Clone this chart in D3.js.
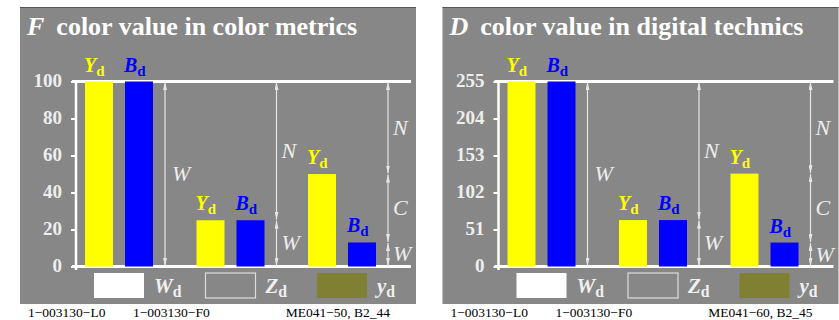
<!DOCTYPE html>
<html lang="en">
<head>
<meta charset="UTF-8">
<title>Color values F and D</title>
<script src="https://d3js.org/d3.v7.min.js"></script>
<style>
  body { margin: 0; background: #fff; }
  svg text { font-family: "Liberation Serif", "Times New Roman", serif; }
</style>
</head>
<body>
<div id="chart"></div>
<script>
// data
var groups = [0, 1, 2];
var fYellow = [100, 25, 50];
var fBlue = [100, 25, 13];
var fTicks = [0, 20, 40, 60, 80, 100];
var dYellow = [255, 64, 128];
var dBlue = [255, 64, 33];
var dTicks = [0, 51, 102, 153, 204, 255];
var legendKeys = ["W", "Z", "y"];
var footerF = ["1\u2212003130\u2212L0", "1\u2212003130\u2212F0", "ME041\u221250, B2_44"];
var footerD = ["1\u2212003130\u2212L0", "1\u2212003130\u2212F0", "ME041\u221260, B2_45"];

var W = 839, H = 320;
var serif = "'Liberation Serif', 'Times New Roman', serif";
var svg = d3.select("#chart").append("svg")
  .attr("width", W).attr("height", H);

svg.append("defs").append("marker")
  .attr("id", "head")
  .attr("viewBox", "0 0 8 4")
  .attr("refX", 8).attr("refY", 2)
  .attr("markerWidth", 8).attr("markerHeight", 4)
  .attr("markerUnits", "userSpaceOnUse")
  .attr("orient", "auto-start-reverse")
  .append("path")
  .attr("d", "M0,0L8,2L0,4Z")
  .attr("fill", "#e6e6e6");

function subText(sel, main, sub, size, color) {
  var t = sel.append("text").attr("fill", color);
  t.append("tspan").text(main)
    .style("font-style", "italic").style("font-weight", "bold")
    .style("font-size", size + "px");
  t.append("tspan").text(sub)
    .style("font-weight", "bold").style("font-size", (size * 0.75) + "px")
    .attr("dy", size * 0.2);
  return t;
}

function drawPanel(ox, letter, title, yellow, blue, ticks, footer) {
  var g = svg.append("g").attr("transform", "translate(" + ox + ",0)");
  var maxV = ticks[ticks.length - 1];

  g.append("rect")
    .attr("x", 20).attr("y", 7).attr("width", 396).attr("height", 297)
    .attr("fill", "#878787");
  g.append("line")
    .attr("x1", 20).attr("x2", 416).attr("y1", 7.5).attr("y2", 7.5)
    .attr("stroke", "#555").attr("stroke-width", 1);

  // title
  var t = g.append("text").attr("x", 27).attr("y", 35)
    .attr("fill", "#fff").style("font-size", "26px").style("font-weight", "bold");
  t.append("tspan").style("font-style", "italic").text(letter);
  t.append("tspan").attr("dx", 12).text("color value in " + title);

  var y = d3.scaleLinear().domain([0, maxV]).range([266.5, 81.5]);
  var x = d3.scaleLinear().domain([0, 1]).range([85, 196.5]);
  var bw = 28;

  // axis
  var ax = g.append("g").attr("transform", "translate(76,0)")
    .call(d3.axisLeft(y).tickValues(ticks).tickSize(5).tickPadding(9).tickSizeOuter(0));
  ax.select(".domain").remove();
  ax.selectAll(".tick line").attr("stroke", "#fff").attr("stroke-width", 2);
  ax.selectAll(".tick text")
    .attr("fill", "#eee").attr("dy", "0.25em")
    .style("font-family", serif).style("font-size", "19px").style("font-weight", "bold");

  g.append("line").attr("x1", 76).attr("x2", 76).attr("y1", 81).attr("y2", 270)
    .attr("stroke", "#fff").attr("stroke-width", 2.5);
  [0, maxV].forEach(function (v) {
    g.append("line").attr("x1", 72).attr("x2", 411).attr("y1", y(v)).attr("y2", y(v))
      .attr("stroke", "#fff").attr("stroke-width", 3);
  });

  // bars
  var bars = [];
  groups.forEach(function (i) {
    bars.push({ i: i, off: 0, v: yellow[i], c: "#ffff00", k: "Y" });
    bars.push({ i: i, off: 40, v: blue[i], c: "#0000ff", k: "B" });
  });
  g.selectAll(".bar").data(bars).enter().append("rect")
    .attr("x", function (d) { return x(d.i) + d.off; })
    .attr("y", function (d) { return y(d.v); })
    .attr("width", bw)
    .attr("height", function (d) { return y(0) - y(d.v); })
    .attr("fill", function (d) { return d.c; });
  bars.forEach(function (d) {
    subText(g, d.k, "d", 20, d.c)
      .attr("x", x(d.i) + d.off - 1).attr("y", y(d.v) - 10);
  });

  // N / C / W arrows
  groups.forEach(function (i) {
    var ax0 = x(i) + 80;
    var segs = [
      { k: "N", a: maxV, b: yellow[i] },
      { k: "C", a: yellow[i], b: blue[i] },
      { k: "W", a: blue[i], b: 0 }
    ].filter(function (s) { return s.a - s.b > 0; });
    segs.forEach(function (s) {
      g.append("line")
        .attr("x1", ax0).attr("x2", ax0)
        .attr("y1", y(s.a) + 0.5).attr("y2", y(s.b) - 0.5)
        .attr("stroke", "#e6e6e6").attr("stroke-width", 1.2)
        .attr("marker-start", "url(#head)").attr("marker-end", "url(#head)");
      g.append("text")
        .attr("x", ax0 + (i === 0 ? 7 : 5))
        .attr("y", (y(s.a) + y(s.b)) / 2 + 7)
        .attr("fill", "#eee")
        .style("font-family", serif).style("font-size", "22px").style("font-style", "italic")
        .text(s.k);
    });
  });

  // legend
  var lx = d3.scalePoint().domain(legendKeys).range([94, 317]);
  legendKeys.forEach(function (k) {
    var r = g.append("rect").attr("x", lx(k)).attr("y", 273).attr("width", 50).attr("height", 25);
    if (k === "W") r.attr("fill", "#fff");
    if (k === "Z") r.attr("fill", "#878787").attr("stroke", "#ddd").attr("stroke-width", 1.2);
    if (k === "y") r.attr("fill", "#808033");
    subText(g, k, "d", 21, "#f0f0f0").attr("x", lx(k) + 60).attr("y", 293);
  });

  // footer
  var ft = [[28, "start"], [133, "start"], [390, "end"]];
  ft.forEach(function (p, j) {
    g.append("text").attr("x", p[0]).attr("y", 317).attr("text-anchor", p[1])
      .style("font-size", "13.5px").text(footer[j]);
  });
}

drawPanel(0, "F", "color metrics", fYellow, fBlue, fTicks, footerF);
drawPanel(422.5, "D", "digital technics", dYellow, dBlue, dTicks, footerD);
</script>
</body>
</html>
